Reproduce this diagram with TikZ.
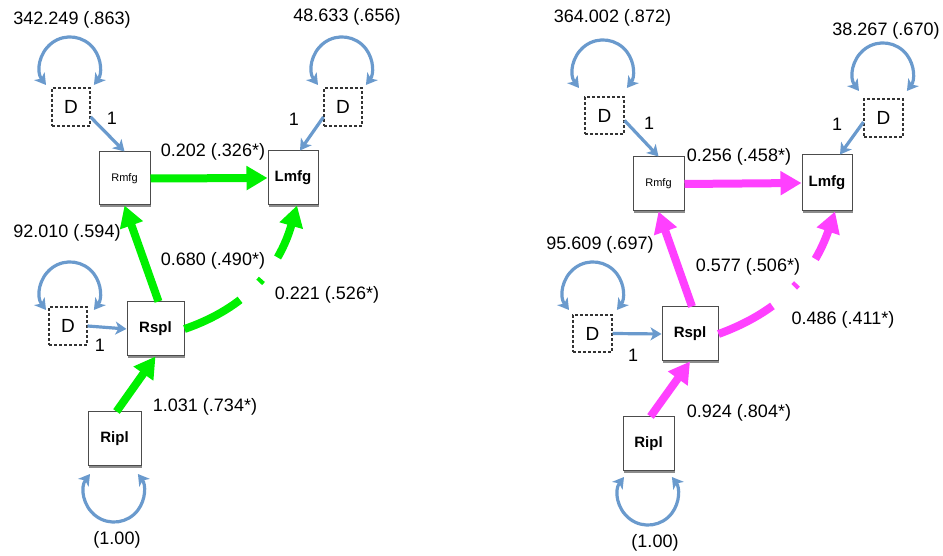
\documentclass[tikz,border=0pt]{standalone}
\usepackage{fontspec}
\setmainfont{Liberation Sans}
\usetikzlibrary{arrows.meta,shadows}
\definecolor{lblue}{HTML}{6A9ACD}
\definecolor{lgreen}{HTML}{00F000}
\definecolor{lmag}{HTML}{FF40FF}
\begin{document}
\begin{tikzpicture}[x=1pt,y=1pt,
 box/.style={draw=black!70, line width=1pt, fill=white, minimum width=51pt, minimum height=53pt, inner sep=0pt,
   drop shadow={shadow xshift=0.8pt, shadow yshift=-1.6pt, fill=black!45, opacity=1}},
 dbox/.style={draw=black!80, dash pattern=on 3pt off 2pt, line width=1.1pt, minimum width=38pt, minimum height=38pt, inner sep=0pt, font=\fontsize{19}{20}\selectfont},
 small/.style={font=\fontsize{11}{12}\selectfont},
 big/.style={font=\bfseries\fontsize{15}{16}\selectfont},
 lbl/.style={font=\fontsize{18}{20}\selectfont, inner sep=0pt},
 blu/.style={draw=lblue, line width=3.2pt, -{Stealth[length=11pt,width=13pt,inset=3pt]}},
 loopsty/.style={draw=lblue, line width=3.2pt, {Stealth[length=11pt,width=13pt,inset=3pt]}-{Stealth[length=11pt,width=13pt,inset=3pt]}},
 fat/.style={line width=8pt, -{Triangle[length=21pt,width=23pt]}},
]
\useasboundingbox (0,0) rectangle (943,556);
% ---------------- left panel ----------------
\node[dbox] (dA) at (71,449) {D};
\node[dbox] (dB) at (343,449) {D};
\node[box,small] (rmfgL) at (124.5,377.5) {Rmfg};
\node[box,big,minimum width=50pt,minimum height=54pt] (lmfgL) at (293,378) {Lmfg};
\node[dbox] (dC) at (68,230) {D};
\node[box,big,minimum width=57pt,minimum height=54pt] (rsplL) at (155.5,227) {Rspl};
\node[box,big,minimum width=53pt,minimum height=54pt] (riplL) at (114.5,117) {Ripl};

\draw[loopsty] ([shift={(-25,22)}]dA.center) arc[start angle=217, end angle=-37, radius=30];
\draw[loopsty] ([shift={(-25,22)}]dB.center) arc[start angle=217, end angle=-37, radius=30];
\draw[loopsty] ([shift={(-22,16)}]dC.center) arc[start angle=217, end angle=-37, radius=30];
\draw[loopsty] ([shift={(-24.5,-35)}]riplL.center) arc[start angle=143, end angle=397, radius=30];

\draw[blu] ([yshift=-10pt]dA.east) -- (rmfgL.north);
\draw[blu] ([yshift=-10pt]dB.west) -- ([xshift=7pt]lmfgL.north);
\draw[blu] (dC.east) -- (rsplL.west);

\draw[fat,lgreen] (rmfgL.east) -- (lmfgL.west);
\draw[fat,lgreen] ([xshift=3pt]rsplL.north) -- (rmfgL.south);
\draw[fat,lgreen] ([xshift=2pt]riplL.north) -- (rsplL.south);
\draw[fat,lgreen,dash pattern=on 63pt off 26pt on 4pt off 27pt on 500pt] (rsplL.east) to[out=19, in=-106] ([xshift=4pt]lmfgL.south);

\node[lbl] (tA) at (72,536) {342.249 (.863)};
\node[lbl] (tB) at (347,539) {48.633 (.656)};
\node[lbl] (oA) at (112,438) {1};
\node[lbl] (oB) at (294,437) {1};
\node[lbl] (eA) at (213,404) {0.202 (.326*)};
\node[lbl] (tC) at (67,323) {92.010 (.594)};
\node[lbl] (eB) at (213,295) {0.680 (.490*)};
\node[lbl] (eC) at (327,261) {0.221 (.526*)};
\node[lbl] (oC) at (100,211) {1};
\node[lbl] (eD) at (205,149) {1.031 (.734*)};
\node[lbl] (tD) at (117,16) {(1.00)};

% ---------------- right panel ----------------
\node[dbox,minimum width=39pt,minimum height=37pt] (dA2) at (604.5,440.5) {D};
\node[dbox,minimum width=39pt] (dB2) at (883.5,438) {D};
\node[box,small,minimum height=54pt] (rmfgR) at (658.5,372) {Rmfg};
\node[box,big,minimum width=50pt,minimum height=56pt] (lmfgR) at (827,373) {Lmfg};
\node[dbox,minimum width=39pt,minimum height=37pt] (dC2) at (592.5,222.5) {D};
\node[box,big,minimum width=56pt,minimum height=54pt] (rsplR) at (690,222) {Rspl};
\node[box,big,minimum width=51pt,minimum height=54pt] (riplR) at (648.5,112) {Ripl};

\draw[loopsty] ([shift={(-25.5,27.5)}]dA2.center) arc[start angle=217, end angle=-37, radius=30];
\draw[loopsty] ([shift={(-24.5,27)}]dB2.center) arc[start angle=217, end angle=-37, radius=30];
\draw[loopsty] ([shift={(-23.5,23.5)}]dC2.center) arc[start angle=217, end angle=-37, radius=30];
\draw[loopsty] ([shift={(-24.5,-33)}]riplR.center) arc[start angle=143, end angle=397, radius=30];

\draw[blu] ([yshift=-5pt]dA2.east) -- (rmfgR.north);
\draw[blu] ([yshift=-4pt]dB2.west) -- ([xshift=13pt]lmfgR.north);
\draw[blu] (dC2.east) -- (rsplR.west);

\draw[fat,lmag] (rmfgR.east) -- (lmfgR.west);
\draw[fat,lmag] ([xshift=2pt]rsplR.north) -- (rmfgR.south);
\draw[fat,lmag] ([xshift=2pt]riplR.north) -- (rsplR.south);
\draw[fat,lmag,dash pattern=on 61pt off 29pt on 4pt off 31pt on 500pt] (rsplR.east) to[out=20, in=-109] ([xshift=8pt]lmfgR.south);

\node[lbl] (tA2) at (612.5,538) {364.002 (.872)};
\node[lbl] (tB2) at (886,525) {38.267 (.670)};
\node[lbl] (oA2) at (649,433) {1};
\node[lbl] (oB2) at (837,432) {1};
\node[lbl] (eA2) at (739,399) {0.256 (.458*)};
\node[lbl] (tC2) at (600,311) {95.609 (.697)};
\node[lbl] (eB2) at (748,289) {0.577 (.506*)};
\node[lbl] (eC2) at (843,236) {0.486 (.411*)};
\node[lbl] (oC2) at (633,201) {1};
\node[lbl] (eD2) at (739,143) {0.924 (.804*)};
\node[lbl] (tD2) at (655,13) {(1.00)};
\end{tikzpicture}
\end{document}
